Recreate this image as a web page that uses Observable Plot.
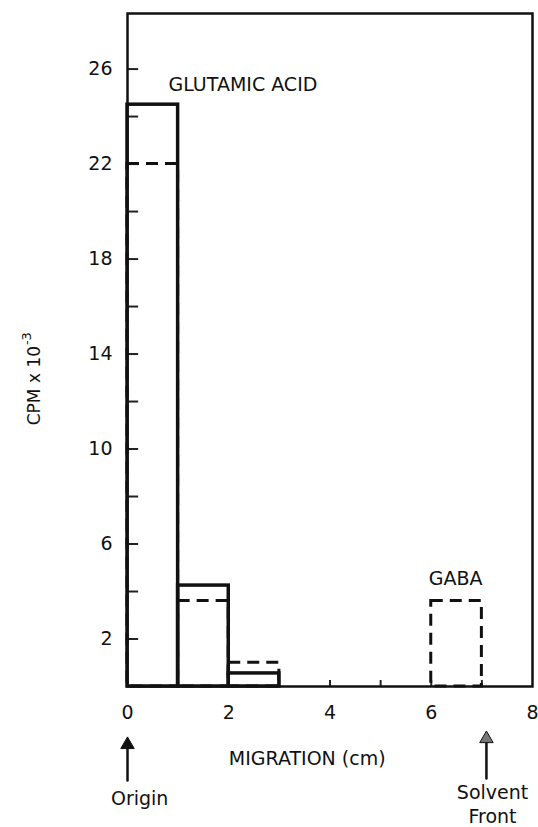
<!DOCTYPE html>
<html><head><meta charset="utf-8">
<script src="https://cdn.jsdelivr.net/npm/d3@7"></script>
<script src="https://cdn.jsdelivr.net/npm/@observablehq/plot@0.6"></script>
<style>body{margin:0;background:#fff}</style>
</head><body><div id="chart"></div>
<script>
// Solid histogram (CPM x 10^-3)
const solidStart = [0, 1, 2];
const solidEnd = [1, 2, 3];
const solidCPM = [24.5, 4.25, 0.55];
// Dashed histogram
const dashedStart = [0, 1, 2, 6];
const dashedEnd = [1, 2, 3, 7];
const dashedCPM = [22, 3.6, 1.0, 3.6];
// Axis ticks & labels
const yTickLabels = [2, 6, 10, 14, 18, 22, 26];
const yTickMarks = [2, 4, 6, 8, 10, 12, 14, 16, 18, 20, 22, 24, 26];
const xTickLabels = [0, 2, 4, 6, 8];
const xTickMarks = [1, 2, 3, 4, 5, 6, 7];
// Annotations
const peakLabels = [{text: "GLUTAMIC ACID", x: 0.81, y: 25.35}, {text: "GABA", x: 5.95, y: 4.55}];
const yTitleMain = [{text: "CPM x 10", y: 12.67}];
const yTitleExp = [{text: "-3", y: 14.65}];
const xTitle = [{text: "MIGRATION (cm)", x: 3.55, y: -3.05}];
const markers = [{text: "Origin", x: 0, tx: 0.24, y1: -3.96, y2: -2.45, ty: -4.67, head: "#111"},
                 {text: "Solvent\nFront", x: 7.09, tx: 7.21, y1: -3.87, y2: -2.2, ty: -4.93, head: "#777"}];

const solid = solidStart.map((s, i) => ({x1: s, x2: solidEnd[i], y: solidCPM[i]}));
const dashed = dashedStart.map((s, i) => ({x1: s, x2: dashedEnd[i], y: dashedCPM[i]}));

const chart = Plot.plot({
  width: 538,
  height: 827,
  marginLeft: 127,
  marginRight: 6,
  marginTop: 13,
  marginBottom: 141,
  style: {fontFamily: "DejaVu Sans", fontSize: "19px", color: "#111", background: "#fff"},
  x: {domain: [0, 8]},
  y: {domain: [0, 28.34]},
  marks: [
    Plot.axisX(xTickLabels, {tickSize: 0, tickPadding: 19, fontSize: 19, label: null, tickFormat: d => d}),
    Plot.axisY(yTickLabels, {tickSize: 0, tickPadding: 15, fontSize: 19, label: null, tickFormat: d => d}),
    Plot.ruleY(yTickMarks, {y: d => d, x1: 0, x2: 0.22, stroke: "#222", strokeWidth: 2}),
    Plot.ruleX(xTickMarks, {x: d => d, y1: 0, y2: 0.25, stroke: "#222", strokeWidth: 2}),
    Plot.rect(dashed, {x1: "x1", x2: "x2", y1: 0, y2: "y", fill: "none", stroke: "#111", strokeWidth: 3, strokeDasharray: "12,7"}),
    Plot.rect(solid, {x1: "x1", x2: "x2", y1: 0, y2: "y", fill: "none", stroke: "#111", strokeWidth: 3.5}),
    Plot.frame({stroke: "#111", strokeWidth: 2.5}),
    Plot.text(peakLabels, {x: "x", y: "y", text: "text", textAnchor: "start", lineAnchor: "middle", fontSize: 19, fill: "#111"}),
    Plot.text(yTitleMain, {x: 0, y: "y", dx: -93, text: "text", rotate: -90, textAnchor: "middle", lineAnchor: "middle", fontSize: 17, fill: "#111"}),
    Plot.text(yTitleExp, {x: 0, y: "y", dx: -101, text: "text", rotate: -90, textAnchor: "middle", lineAnchor: "middle", fontSize: 13, fill: "#111"}),
    Plot.text(xTitle, {x: "x", y: "y", text: "text", textAnchor: "middle", lineAnchor: "middle", fontSize: 19, fill: "#111"}),
    Plot.arrow(markers, {x1: "x", x2: "x", y1: "y1", y2: "y2", stroke: "#111", strokeWidth: 2.5, headLength: 0}),
    Plot.dot(markers, {x: "x", y: "y2", symbol: "triangle", r: 5, fill: "head", stroke: "#111", strokeWidth: 1}),
    Plot.text(markers, {x: "tx", y: "ty", text: "text", textAnchor: "middle", lineAnchor: "middle", lineHeight: 1.25, fontSize: 19, fill: "#111"})
  ]
});
document.getElementById("chart").append(chart);
</script>
</body></html>
